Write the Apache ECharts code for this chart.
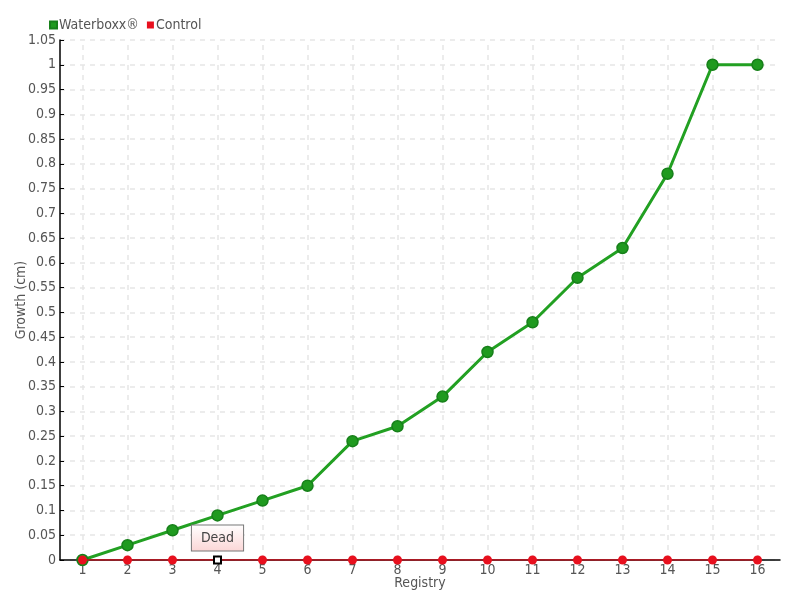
<!DOCTYPE html>
<html>
<head>
<meta charset="utf-8">
<script src="https://cdn.jsdelivr.net/npm/echarts@6/dist/echarts.min.js"></script>
<style>
  body { margin: 0; background: #fff; }
  #main { width: 800px; height: 600px; }
</style>
</head>
<body>
<div id="main"></div>
<script>
var registry = ['1', '2', '3', '4', '5', '6', '7', '8', '9', '10', '11', '12', '13', '14', '15', '16']
var waterboxx = [0, 0.03, 0.06, 0.09, 0.12, 0.15, 0.24, 0.27, 0.33, 0.42, 0.48, 0.57, 0.63, 0.78, 1, 1]
var control = [0, 0, 0, 0, 0, 0, 0, 0, 0, 0, 0, 0, 0, 0, 0, 0]
var deadIndex = 3

var font = '"DejaVu Sans Condensed", "Liberation Sans Narrow", Roboto, sans-serif'
var gridLine = {color: '#e6e6e6', type: [5, 5], width: 1.5}

var controlData = control.map(function (v, i) {
  if (i !== deadIndex) return v
  return {
    value: v,
    symbol: 'rect',
    symbolSize: 7,
    itemStyle: {color: '#fff', borderColor: '#000', borderWidth: 2},
    label: {
      show: true,
      position: 'top',
      distance: 5,
      formatter: 'Dead',
      fontFamily: font,
      fontSize: 14,
      color: '#444',
      padding: [6, 9, 5, 9],
      borderColor: '#777',
      borderWidth: 1,
      backgroundColor: {
        type: 'linear', x: 0, y: 0, x2: 0, y2: 1,
        colorStops: [{offset: 0, color: '#ffffff'}, {offset: 1, color: '#fbd6d6'}]
      }
    }
  }
})

echarts.init(document.getElementById('main')).setOption({
  animation: false,
  textStyle: {fontFamily: font},
  legend: {
    left: 44,
    top: 13,
    itemWidth: 7,
    itemHeight: 7,
    itemGap: 8,
    icon: 'rect',
    textStyle: {fontFamily: font, fontSize: 14, color: '#555', padding: [0, 0, 0, -3]},
    data: ['Waterboxx®', 'Control']
  },
  grid: {left: 60, right: 20, top: 40, bottom: 40, outerBoundsMode: 'none'},
  xAxis: {
    type: 'category',
    data: registry,
    boundaryGap: true,
    name: 'Registry',
    nameLocation: 'middle',
    nameGap: 16,
    nameMoveOverlap: false,
    nameTextStyle: {fontFamily: font, fontSize: 14, color: '#555'},
    axisLine: {lineStyle: {color: '#000', width: 1.5}},
    axisTick: {show: false},
    axisLabel: {fontFamily: font, fontSize: 14, color: '#555', margin: 3, interval: 0},
    splitLine: {show: false}
  },
  yAxis: {
    type: 'value',
    min: 0,
    max: 1.05,
    interval: 0.05,
    name: 'Growth (cm)',
    nameLocation: 'middle',
    nameGap: 32,
    nameMoveOverlap: false,
    nameTextStyle: {fontFamily: font, fontSize: 14, color: '#555'},
    axisLine: {show: true, lineStyle: {color: '#000', width: 1.5}},
    axisTick: {show: true, inside: true, length: 4, lineStyle: {color: '#000'}},
    axisLabel: {
      fontFamily: font, fontSize: 14, color: '#555', margin: 4,
      formatter: function (v) { return String(Math.round(v * 100) / 100) }
    },
    splitLine: {lineStyle: gridLine}
  },
  series: [
    {
      name: 'Waterboxx®',
      type: 'line',
      data: waterboxx,
      symbol: 'circle',
      symbolSize: 11,
      color: '#22a022',
      lineStyle: {color: '#22a022', width: 3},
      itemStyle: {color: '#1f9a1f', borderColor: '#17801a', borderWidth: 1.5},
      z: 2,
      // vertical dashed grid lines sit on the category centres
      markLine: {
        silent: true,
        symbol: 'none',
        label: {show: false},
        lineStyle: gridLine,
        z: 0,
        data: registry.map(function (c) { return {xAxis: c} })
      }
    },
    {
      name: 'Control',
      type: 'line',
      data: controlData,
      symbol: 'circle',
      symbolSize: 9,
      color: '#e8101e',
      lineStyle: {color: '#d0101e', width: 1.5},
      itemStyle: {color: '#e8101e'},
      z: 3
    }
  ]
})
</script>
</body>
</html>
